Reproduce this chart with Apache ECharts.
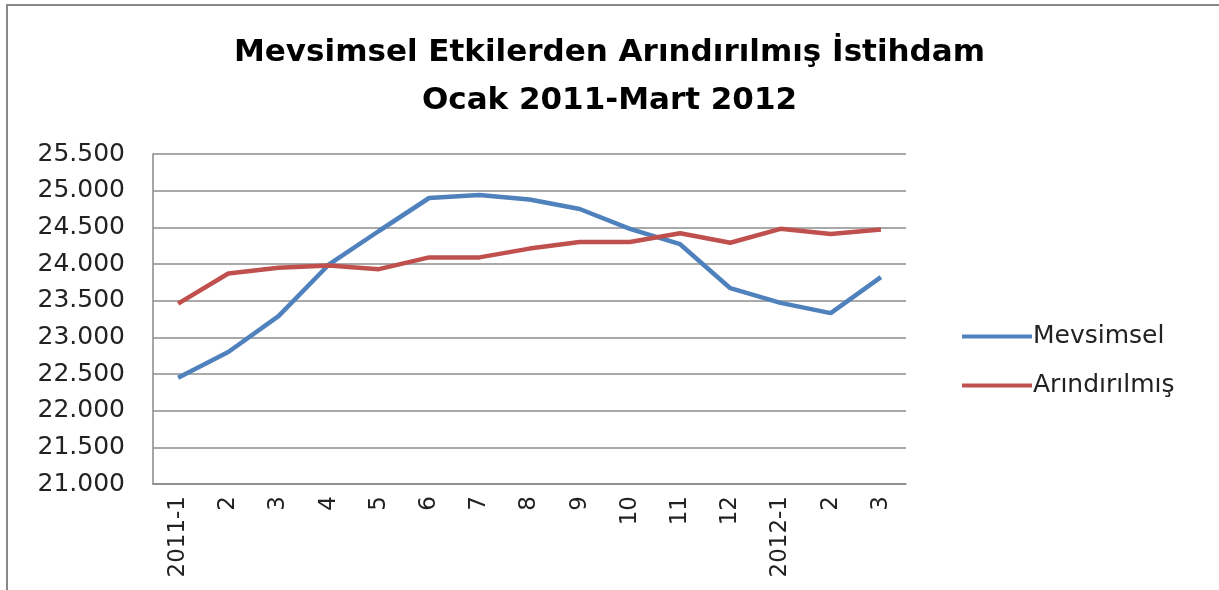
<!DOCTYPE html>
<html>
<head>
<meta charset="utf-8">
<script src="https://cdn.jsdelivr.net/npm/echarts@6/dist/echarts.min.js"></script>
<style>
	body { margin: 0; background: #fff; }
	#frame { position: absolute; left: 6px; top: 4px; width: 1213px; height: 586px; border-left: 2px solid #888; border-top: 2px solid #888; }
	#chart { position: absolute; left: 0; top: 0; width: 1219px; height: 590px; }
</style>
</head>
<body>
<div id="frame"></div>
<div id="chart"></div>
<script>
// aylar: Ocak 2011 - Mart 2012
const months = ['2011-1', '2', '3', '4', '5', '6', '7', '8', '9', '10', '11', '12', '2012-1', '2', '3']
// istihdam (bin kişi)
const mevsimsel = [22450, 22800, 23290, 23990, 24450, 24900, 24940, 24880, 24750, 24480, 24270, 23670, 23470, 23330, 23820]
const arindirilmis = [23460, 23870, 23950, 23980, 23930, 24090, 24090, 24210, 24300, 24300, 24420, 24290, 24480, 24410, 24470]

const chart = echarts.init(document.getElementById('chart'))
const option = {
	animation: false,
	title: {
		text: 'Mevsimsel Etkilerden Arındırılmış İstihdam\nOcak 2011-Mart 2012',
		left: 'center',
		top: 24,
		textStyle: {
			fontFamily: 'DejaVu Sans',
			fontWeight: 'bold',
			fontSize: 31,
			lineHeight: 48,
			color: '#000'
		}
	},
	grid: {
		left: 153,
		right: 313,
		top: 154,
		bottom: 106
	},
	legend: {
		orient: 'vertical',
		left: 957,
		top: 319,
		itemWidth: 70,
		itemHeight: 4,
		itemGap: 24,
		icon: 'rect',
		textStyle: { fontFamily: 'DejaVu Sans', fontSize: 25, color: '#222', padding: [0, 0, 0, -4] },
		data: ['Mevsimsel', 'Arındırılmış']
	},
	xAxis: {
		type: 'category',
		data: months,
		boundaryGap: true,
		axisLine: { lineStyle: { color: '#888', width: 1.5 } },
		axisTick: { show: false },
		axisLabel: {
			rotate: 90,
			interval: 0,
			margin: 12,
			fontFamily: 'DejaVu Sans',
			fontSize: 23,
			color: '#222'
		}
	},
	yAxis: {
		type: 'value',
		min: 21000,
		max: 25500,
		interval: 500,
		axisLine: { show: true, lineStyle: { color: '#888', width: 1.5 } },
		axisTick: { show: false },
		splitLine: { lineStyle: { color: '#8c8c8c', width: 1.5 } },
		axisLabel: {
			margin: 28,
			fontFamily: 'DejaVu Sans',
			fontSize: 25,
			color: '#222',
			formatter: (v) => v.toLocaleString('de-DE', { minimumFractionDigits: 0 }).replace(',', '.')
		}
	},
	series: [
		{
			name: 'Mevsimsel',
			type: 'line',
			data: mevsimsel,
			showSymbol: false,
			itemStyle: { color: '#4F81BD' },
			lineStyle: { color: '#4F81BD', width: 4.5 }
		},
		{
			name: 'Arındırılmış',
			type: 'line',
			data: arindirilmis,
			showSymbol: false,
			itemStyle: { color: '#C0504D' },
			lineStyle: { color: '#C0504D', width: 4.5 }
		}
	]
}
chart.setOption(option)
</script>
</body>
</html>
